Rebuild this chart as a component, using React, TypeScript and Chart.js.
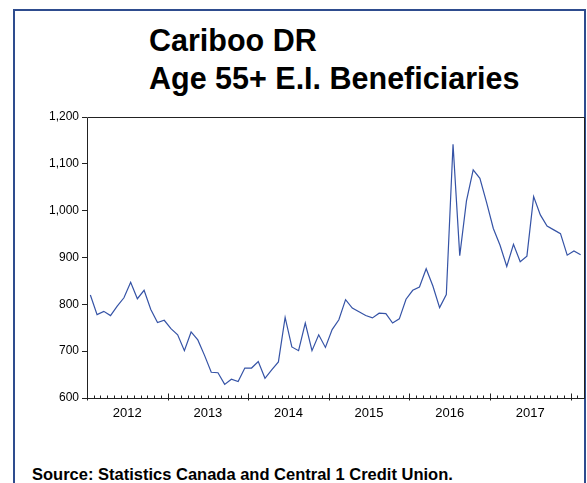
import React, { useEffect, useRef } from "react";
import { Chart, registerables } from "chart.js";

Chart.register(...registerables);

const titleLines = ["Cariboo DR", "Age 55+ E.I. Beneficiaries"];
const sourceText = "Source: Statistics Canada and Central 1 Credit Union.";
const yearLabels = ["2012", "2013", "2014", "2015", "2016", "2017"];
const monthsTotal = 74; // Jan 2012 .. Feb 2018
const beneficiaries = [
  820, 778, 785, 776, 796, 814, 847, 812, 830, 789, 761, 766,
  748, 735, 701, 741, 724, 691, 655, 654, 629, 640, 635, 664,
  664, 678, 642, 660, 677, 772, 709, 701, 760, 701, 735, 708,
  746, 767, 810, 792, 784, 776, 771, 781, 780, 760, 769, 811,
  830, 837, 876, 839, 793, 821, 1142, 904, 1021, 1087, 1069, 1017,
  962, 926, 881, 928, 891, 903, 1030, 991, 967, 959, 951, 905,
  914, 906,
];
const yTicks = [600, 700, 800, 900, 1000, 1100, 1200];

const FONT = "'Liberation Sans', Arial, sans-serif";

const boxAndTicks = {
  id: "boxAndTicks",
  afterDraw(chart: any) {
    const { ctx, chartArea } = chart;
    const xs = chart.scales.x;
    ctx.save();
    ctx.strokeStyle = "#222";
    ctx.lineWidth = 1;
    ctx.beginPath();
    ctx.rect(
      Math.round(chartArea.left) + 0.5,
      Math.round(chartArea.top) + 0.5,
      Math.round(chartArea.right - chartArea.left),
      Math.round(chartArea.bottom - chartArea.top)
    );
    ctx.stroke();
    const b = Math.round(chartArea.bottom) + 0.5;
    ctx.beginPath();
    for (let i = 0; i <= monthsTotal; i++) {
      const x = Math.round(xs.getPixelForValue(i)) + 0.5;
      const major = i % 12 === 0;
      ctx.moveTo(x, b - (major ? 5 : 3));
      ctx.lineTo(x, b + (major ? 2 : 0));
    }
    ctx.stroke();
    ctx.restore();
  },
};

export default function App() {
  const ref = useRef<HTMLCanvasElement | null>(null);
  useEffect(() => {
    if (!ref.current) return;
    const points = beneficiaries.map((v, i) => ({ x: i + 0.5, y: v }));
    const chart = new Chart(ref.current, {
      type: "line",
      data: {
        datasets: [
          {
            data: points,
            borderColor: "#3553a6",
            borderWidth: 1.2,
            pointRadius: 0,
            tension: 0,
            fill: false,
          },
        ],
      },
      options: {
        animation: false,
        responsive: false,
        maintainAspectRatio: false,
        layout: { padding: { left: 0, right: 3, top: 17, bottom: 0 } },
        plugins: { legend: { display: false }, tooltip: { enabled: false }, title: { display: false } },
        scales: {
          x: {
            type: "linear",
            min: 0,
            max: monthsTotal,
            afterFit: (s: any) => {
              s.height = 32;
            },
            afterBuildTicks: (s: any) => {
              s.ticks = yearLabels.map((_, k) => ({ value: 6 + 12 * k }));
            },
            ticks: {
              autoSkip: false,
              maxRotation: 0,
              padding: 8,
              color: "#000",
              font: { family: FONT, size: 13 },
              callback: (v: any) => {
                const k = Math.round((Number(v) - 6) / 12);
                return yearLabels[k] ?? "";
              },
            },
            grid: { display: false, drawTicks: false },
            border: { display: false },
          },
          y: {
            min: 600,
            max: 1200,
            afterFit: (s: any) => {
              s.width = 87;
            },
            afterBuildTicks: (s: any) => {
              s.ticks = yTicks.map((v) => ({ value: v }));
            },
            ticks: {
              padding: 3,
              color: "#000",
              font: { family: FONT, size: 12 },
              callback: (v: any) => Number(v).toLocaleString("en-US"),
            },
            grid: { drawOnChartArea: false, drawTicks: true, tickLength: 5, color: "#222" },
            border: { display: false },
          },
        },
      },
      plugins: [boxAndTicks],
    });
    return () => chart.destroy();
  }, []);

  return (
    <div
      style={{
        position: "fixed",
        left: 0,
        top: 0,
        width: 587,
        height: 483,
        overflow: "hidden",
        background: "#fff",
      }}
    >
      <div
        style={{
          position: "absolute",
          left: 13,
          top: 9,
          width: 569,
          height: 520,
          border: "2px solid #2e4c8e",
        }}
      />
      <div
        style={{
          position: "absolute",
          left: 149,
          top: 21,
          fontFamily: FONT,
          fontWeight: "bold",
          fontSize: 30.5,
          lineHeight: "38px",
          color: "#000",
          whiteSpace: "nowrap",
        }}
      >
        {titleLines.map((t) => (
          <div key={t}>{t}</div>
        ))}
      </div>
      <canvas
        ref={ref}
        width={587}
        height={330}
        style={{ position: "absolute", left: 0, top: 100, width: 587, height: 330 }}
      />
      <div
        style={{
          position: "absolute",
          left: 32,
          top: 466,
          fontFamily: FONT,
          fontWeight: "bold",
          fontSize: 16.5,
          lineHeight: "16px",
          color: "#000",
          whiteSpace: "nowrap",
        }}
      >
        {sourceText}
      </div>
    </div>
  );
}
